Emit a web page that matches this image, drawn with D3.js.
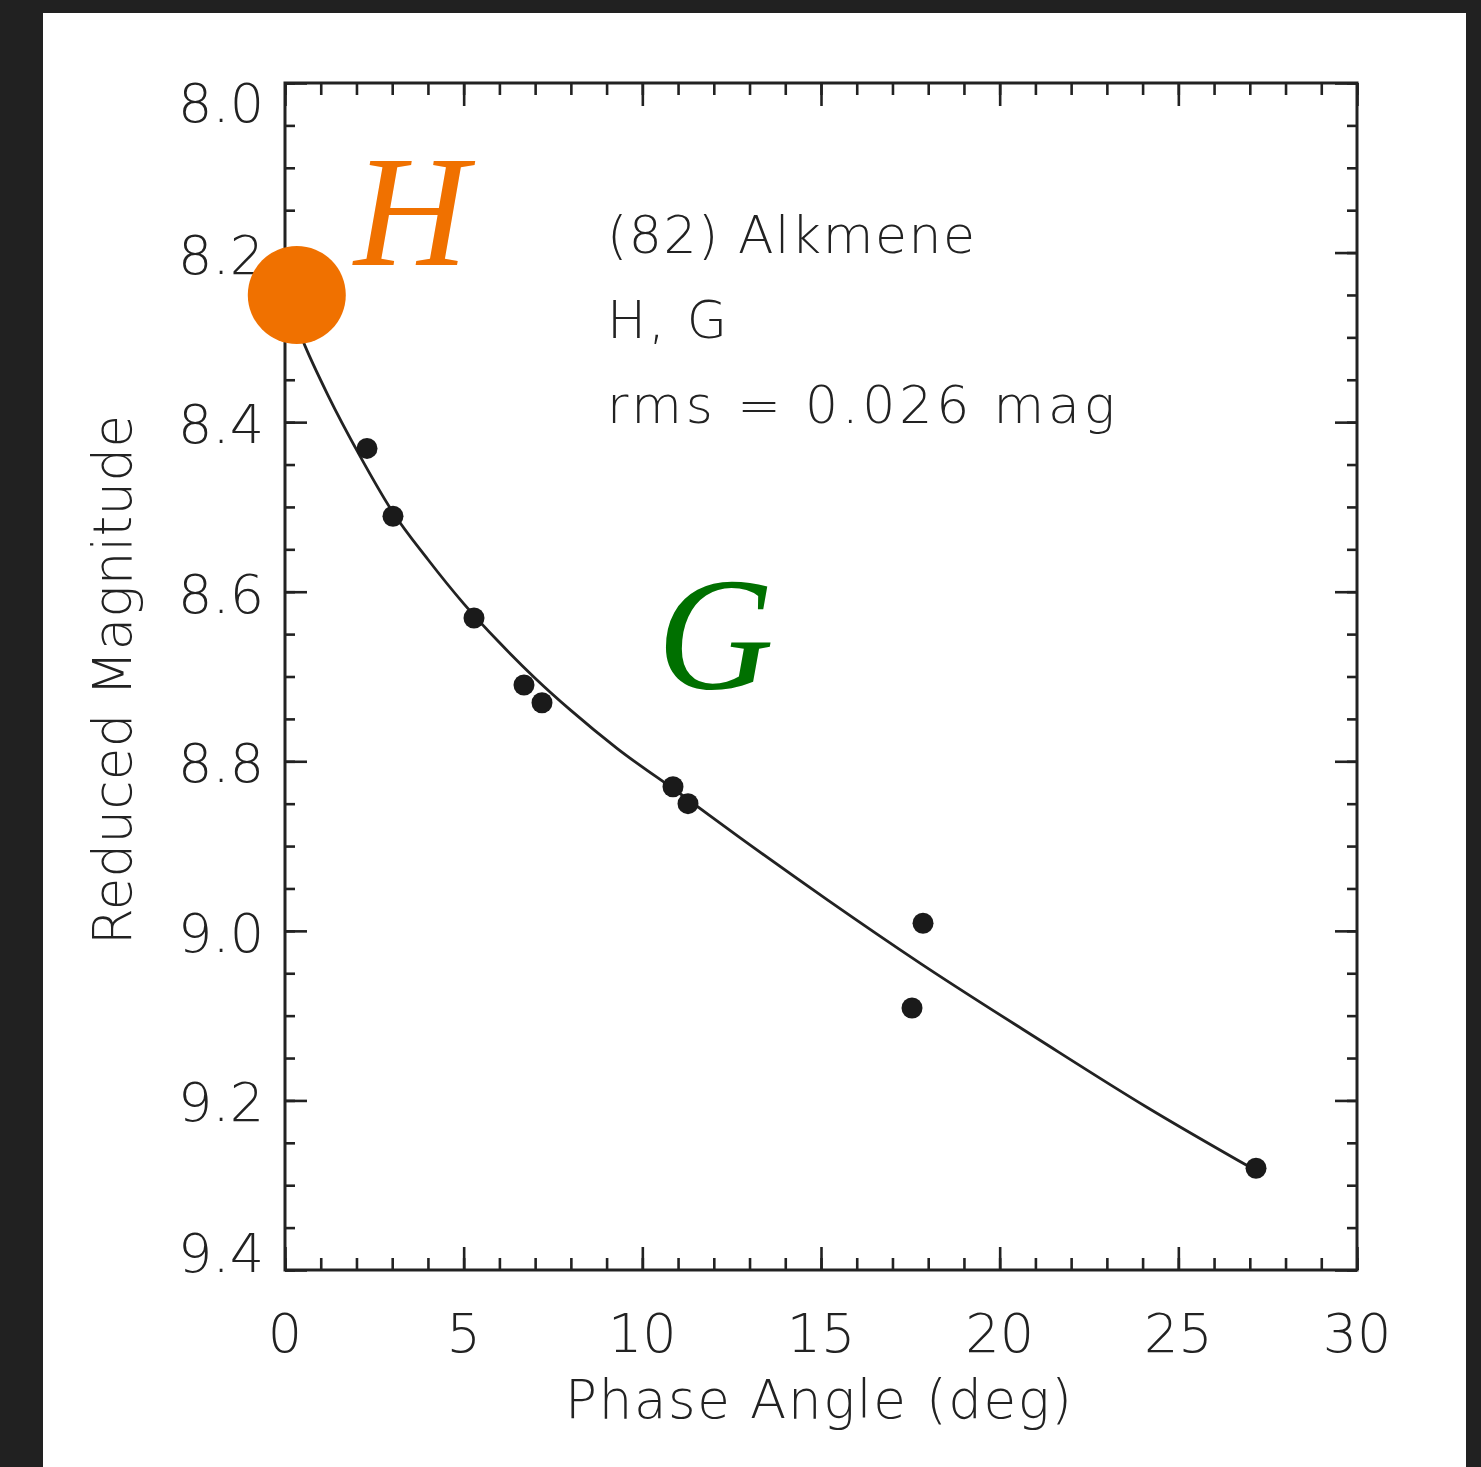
<!DOCTYPE html>
<html>
<head>
<meta charset="utf-8">
<script src="https://cdn.jsdelivr.net/npm/d3@7"></script>
<style>
  body { margin: 0; background: #212121; }
  svg { display: block; }
</style>
</head>
<body>
<script>
// observed points (phase angle in deg, reduced magnitude)
const phaseAngle = [2.295, 3.022, 5.289, 6.688, 7.192, 10.858, 11.278, 17.855, 17.547, 27.174];
const reducedMag = [8.431, 8.511, 8.631, 8.710, 8.731, 8.830, 8.850, 8.991, 9.091, 9.280];

// H,G fit curve
const fitAngle = [0, 0.56, 1.2, 2.1, 3.0, 4.0, 5.0, 6.0, 7.0, 8.0, 9.3, 11.05, 12.73, 15.2, 17.77, 21.13, 24.12, 27.1];
const fitMag = [8.25, 8.31, 8.368, 8.44, 8.505, 8.562, 8.614, 8.66, 8.702, 8.74, 8.785, 8.838, 8.89, 8.964, 9.038, 9.129, 9.208, 9.281];

const xMajor = [0, 5, 10, 15, 20, 25, 30];
const xMinor = d3.range(0, 31, 1);
const yMajor = [8.0, 8.2, 8.4, 8.6, 8.8, 9.0, 9.2, 9.4];
const yMinor = d3.range(0, 29).map(i => 8.0 + i * 0.05);

const noteLines = ["(82)  Alkmene", "H,  G", "rms  =  0.026  mag"];
const hMarker = { angle: 0.33, mag: 8.25 };

const W = 1481, H = 1467;
const frame = { left: 285, right: 1357, top: 83, bottom: 1270 };
const sansFont = "'DejaVu Sans', sans-serif";
const serifFont = "'Liberation Serif', 'DejaVu Serif', serif";
const ink = "#222";

const svg = d3.select("body").append("svg")
    .attr("width", W)
    .attr("height", H);

// white panel on dark page
svg.append("rect")
    .attr("x", 43).attr("y", 13)
    .attr("width", 1423).attr("height", H - 13)
    .attr("fill", "#ffffff");

const x = d3.scaleLinear().domain([0, 30]).range([frame.left, frame.right]);
const y = d3.scaleLinear().domain([8.0, 9.4]).range([frame.top, frame.bottom]);

function createAxis(axis, tx, ty) {
    const g = svg.append("g")
        .attr("transform", "translate(" + tx + ", " + ty + ")")
        .call(axis);
    g.select(".domain").remove();
    g.selectAll("line").attr("stroke", ink).attr("stroke-width", 2.6);
    g.selectAll("text").remove();
    return g;
}

// ticks point inward on all four sides
createAxis(d3.axisBottom(x).tickValues(xMinor).tickSize(-12), 0, frame.bottom);
createAxis(d3.axisBottom(x).tickValues(xMajor).tickSize(-23), 0, frame.bottom);
createAxis(d3.axisTop(x).tickValues(xMinor).tickSize(-12), 0, frame.top);
createAxis(d3.axisTop(x).tickValues(xMajor).tickSize(-23), 0, frame.top);
createAxis(d3.axisLeft(y).tickValues(yMinor).tickSize(-10), frame.left, 0);
createAxis(d3.axisLeft(y).tickValues(yMajor).tickSize(-22), frame.left, 0);
createAxis(d3.axisRight(y).tickValues(yMinor).tickSize(-10), frame.right, 0);
createAxis(d3.axisRight(y).tickValues(yMajor).tickSize(-22), frame.right, 0);

svg.append("rect")
    .attr("x", frame.left).attr("y", frame.top)
    .attr("width", frame.right - frame.left)
    .attr("height", frame.bottom - frame.top)
    .attr("fill", "none")
    .attr("stroke", ink)
    .attr("stroke-width", 3);

// tick labels
svg.selectAll(".xLabel").data(xMajor).enter()
    .append("text")
    .attr("class", "xLabel")
    .attr("x", d => x(d))
    .attr("y", 1352)
    .attr("text-anchor", "middle")
    .attr("font-family", sansFont)
    .attr("font-size", 54)
    .attr("font-weight", 300)
    .attr("fill", ink)
    .text(d => d);

svg.selectAll(".yLabel").data(yMajor).enter()
    .append("text")
    .attr("class", "yLabel")
    .attr("x", 264)
    .attr("y", (d, i) => {
        if (i === 0) return frame.top + 39;
        if (i === yMajor.length - 1) return frame.bottom + 2;
        return y(d) + 21;
    })
    .attr("text-anchor", "end")
    .attr("font-family", sansFont)
    .attr("font-size", 54)
    .attr("font-weight", 300)
    .attr("fill", ink)
    .text(d => d3.format(".1f")(d));

// axis titles
svg.append("text")
    .attr("x", 565)
    .attr("y", 1418)
    .attr("textLength", 507)
    .attr("lengthAdjust", "spacing")
    .attr("font-family", sansFont)
    .attr("font-size", 53)
    .attr("font-weight", 300)
    .attr("fill", ink)
    .text("Phase Angle (deg)");

svg.append("text")
    .attr("transform", "translate(131, 945) rotate(-90)")
    .attr("textLength", 530)
    .attr("lengthAdjust", "spacing")
    .attr("font-family", sansFont)
    .attr("font-size", 53)
    .attr("font-weight", 300)
    .attr("fill", ink)
    .text("Reduced Magnitude");

// fit curve
const fitPoints = fitAngle.map((a, i) => [a, fitMag[i]]);
svg.append("path")
    .datum(fitPoints)
    .attr("fill", "none")
    .attr("stroke", ink)
    .attr("stroke-width", 2.8)
    .attr("d", d3.line()
        .x(d => x(d[0]))
        .y(d => y(d[1]))
        .curve(d3.curveMonotoneX));

// observations
svg.selectAll(".obs").data(phaseAngle).enter()
    .append("circle")
    .attr("class", "obs")
    .attr("cx", d => x(d))
    .attr("cy", (d, i) => y(reducedMag[i]))
    .attr("r", 10.5)
    .attr("fill", "#1a1a1a");

// annotation block
const noteWidths = [368, 120, 508];
svg.selectAll(".note").data(noteLines).enter()
    .append("text")
    .attr("class", "note")
    .attr("x", 607)
    .attr("y", (d, i) => 253 + i * 85)
    .attr("textLength", (d, i) => noteWidths[i])
    .attr("lengthAdjust", "spacing")
    .attr("font-family", sansFont)
    .attr("font-size", 52)
    .attr("font-weight", 300)
    .attr("fill", ink)
    .text(d => d);

// H marker and labels
svg.append("circle")
    .attr("cx", x(hMarker.angle))
    .attr("cy", y(hMarker.mag))
    .attr("r", 49)
    .attr("fill", "#f07100");

svg.append("text")
    .attr("x", 354)
    .attr("y", 265)
    .attr("font-family", serifFont)
    .attr("font-style", "italic")
    .attr("font-size", 158)
    .attr("fill", "#f07100")
    .text("H");

svg.append("text")
    .attr("x", 657)
    .attr("y", 689)
    .attr("font-family", serifFont)
    .attr("font-style", "italic")
    .attr("font-size", 162)
    .attr("fill", "#007000")
    .text("G");
</script>
</body>
</html>
